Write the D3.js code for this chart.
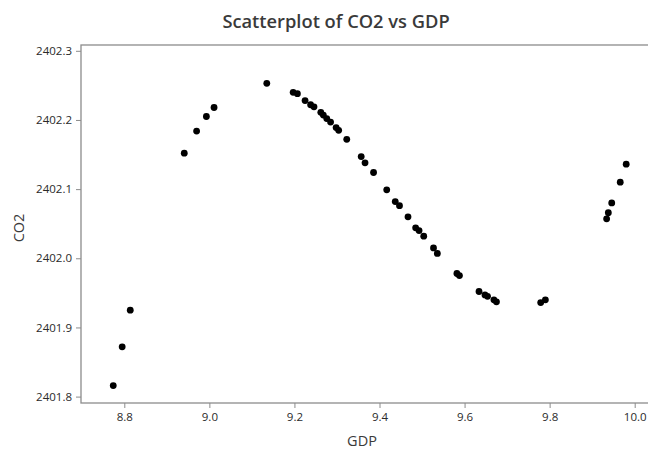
<!DOCTYPE html>
<html>
<head>
<meta charset="utf-8">
<script src="https://cdn.jsdelivr.net/npm/d3@7"></script>
<style>
  body { margin: 0; background: #fff; }
  svg { display: block; }
</style>
</head>
<body>
<div id="chart"></div>
<script>
// values
const gdp = [8.774, 8.795, 8.814, 8.941, 8.970, 8.993, 9.011, 9.135, 9.197, 9.207,
  9.225, 9.238, 9.246, 9.262, 9.268, 9.276, 9.285, 9.298, 9.304, 9.323,
  9.357, 9.366, 9.386, 9.417, 9.437, 9.447, 9.467, 9.485, 9.493, 9.504,
  9.527, 9.536, 9.582, 9.588, 9.634, 9.648, 9.654, 9.669, 9.675, 9.779,
  9.790, 9.934, 9.938, 9.946, 9.966, 9.980];
const co2 = [2401.816, 2401.872, 2401.925, 2402.152, 2402.184, 2402.205, 2402.218, 2402.253, 2402.240, 2402.238,
  2402.228, 2402.222, 2402.219, 2402.211, 2402.207, 2402.202, 2402.197, 2402.189, 2402.185, 2402.172,
  2402.147, 2402.138, 2402.124, 2402.099, 2402.082, 2402.076, 2402.060, 2402.044, 2402.040, 2402.032,
  2402.015, 2402.007, 2401.978, 2401.975, 2401.952, 2401.947, 2401.945, 2401.940, 2401.937, 2401.936,
  2401.940, 2402.057, 2402.066, 2402.080, 2402.110, 2402.136];
const xTicks = [8.8, 9.0, 9.2, 9.4, 9.6, 9.8, 10.0];
const yTicks = [2401.8, 2401.9, 2402.0, 2402.1, 2402.2, 2402.3];

const width = 648, height = 451;
const plotLeft = 81, plotTop = 45, plotBottom = 403, plotRight = 664;
const font = "'Open Sans', 'Noto Sans', sans-serif";

const svg = d3.select("#chart").append("svg")
  .attr("width", width)
  .attr("height", height);

const xScale = d3.scaleLinear().domain([8.8, 10.0]).range([124.3, 634.7]);
const yScale = d3.scaleLinear().domain([2401.8, 2402.3]).range([396.6, 50.8]);

// title
svg.append("text")
  .attr("x", 336)
  .attr("y", 28)
  .attr("text-anchor", "middle")
  .attr("font-family", font)
  .attr("font-size", 18.3)
  .attr("font-weight", 600)
  .attr("fill", "#3a3a3a")
  .text("Scatterplot of CO2 vs GDP");

// frame
svg.append("rect")
  .attr("x", plotLeft)
  .attr("y", plotTop)
  .attr("width", plotRight - plotLeft)
  .attr("height", plotBottom - plotTop)
  .attr("fill", "none")
  .attr("stroke", "#8c8c8c")
  .attr("stroke-width", 1.3);

// x axis
const xAxis = svg.append("g")
  .attr("transform", `translate(0, ${plotBottom})`)
  .call(d3.axisBottom(xScale).tickValues(xTicks).tickFormat(d3.format(".1f")).tickSize(5).tickPadding(5));
xAxis.select(".domain").remove();

// y axis
const yAxis = svg.append("g")
  .attr("transform", `translate(${plotLeft}, 0)`)
  .call(d3.axisLeft(yScale).tickValues(yTicks).tickFormat(d3.format(".1f")).tickSize(5).tickPadding(4));
yAxis.select(".domain").remove();

svg.selectAll(".tick line").attr("stroke", "#8c8c8c");
svg.selectAll(".tick text")
  .attr("font-family", font)
  .attr("font-size", 11.5)
  .attr("fill", "#2a2a2a");

// axis titles
svg.append("text")
  .attr("x", 362)
  .attr("y", 446)
  .attr("text-anchor", "middle")
  .attr("font-family", font)
  .attr("font-size", 14.5)
  .attr("fill", "#3a3a3a")
  .text("GDP");

svg.append("text")
  .attr("transform", "translate(24, 228) rotate(-90)")
  .attr("text-anchor", "middle")
  .attr("font-family", font)
  .attr("font-size", 14.5)
  .attr("fill", "#3a3a3a")
  .text("CO2");

// points
svg.append("g")
  .selectAll("circle")
  .data(gdp)
  .join("circle")
  .attr("cx", d => xScale(d))
  .attr("cy", (d, i) => yScale(co2[i]))
  .attr("r", 3.4)
  .attr("fill", "#000");
</script>
</body>
</html>
